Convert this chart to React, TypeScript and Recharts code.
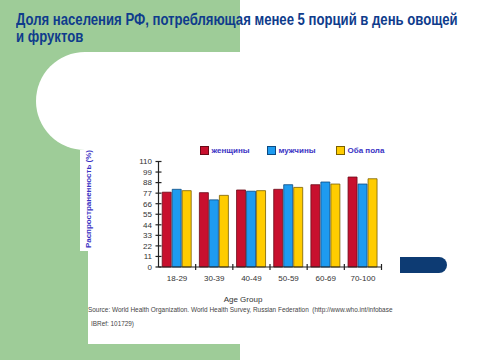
import React from "react"
import { BarChart, Bar, XAxis, YAxis } from "recharts"

const ageGroups = ["18-29", "30-39", "40-49", "50-59", "60-69", "70-100"]
const women = [78, 77.5, 80.3, 81, 85.8, 93.8]
const men = [81, 70, 79, 85.8, 88.6, 86.5]
const both = [79.6, 74.7, 79.6, 83, 86.5, 92]
const yTicks = [0, 11, 22, 33, 44, 55, 66, 77, 88, 99, 110]

const series = [
  { key: "women", name: "женщины", fill: "#c8102e", stroke: "#6b0a18" },
  { key: "men", name: "мужчины", fill: "#1e9bf0", stroke: "#0b4a82" },
  { key: "both", name: "Оба пола", fill: "#ffcc00", stroke: "#7a6000" },
]

const data = ageGroups.map((g, i) => ({ group: g, women: women[i], men: men[i], both: both[i] }))

const GREEN = "#9ecc98"
const PLOT_W = 223
const BAND = PLOT_W / ageGroups.length

const XTick = (props: any) => {
  const { x, y, payload } = props
  const axisY = y - 6
  return (
    <g>
      <line x1={x + BAND / 2} x2={x + BAND / 2} y1={axisY - 3} y2={axisY + 3} stroke="#222" strokeWidth={1.2} />
      <text x={x} y={axisY + 11} dy="0.35em" textAnchor="middle" fontSize={8} fill="#333" fontFamily="Liberation Sans, Arial, sans-serif">
        {payload.value}
      </text>
    </g>
  )
}

const YTick = (props: any) => {
  const { x, y, payload } = props
  const axisX = x + 6
  return (
    <g>
      <line x1={axisX - 3} x2={axisX + 3} y1={y} y2={y} stroke="#222" strokeWidth={1.2} />
      <text x={axisX - 6.5} y={y} dy="0.35em" textAnchor="end" fontSize={8} fill="#333" fontFamily="Liberation Sans, Arial, sans-serif">
        {payload.value}
      </text>
    </g>
  )
}

const abs = (l: number, t: number, w: number, h: number, extra: React.CSSProperties = {}): React.CSSProperties => ({
  position: "absolute",
  left: l,
  top: t,
  width: w,
  height: h,
  ...extra,
})

export default function App() {
  return (
    <div style={{ position: "fixed", left: 0, top: 0, width: 480, height: 360, background: "#fff", overflow: "hidden", fontFamily: "Liberation Sans, Arial, sans-serif" }}>
      {/* slide background */}
      <div style={abs(0, 0, 240, 360, { background: GREEN })} />
      <div style={abs(36, 52, 444, 98, { background: "#fff", borderTopLeftRadius: 49, borderBottomLeftRadius: 49 })} />
      <div style={abs(80, 150, 160, 101, { background: "#fff" })} />
      <div style={abs(88, 251, 152, 93, { background: "#fff" })} />
      <div style={abs(400, 257, 47, 16, { background: "#0d3b73", borderTopRightRadius: 8, borderBottomRightRadius: 8 })} />

      {/* title */}
      <div
        style={abs(16, 11, 560, 40, {
          fontWeight: "bold",
          fontSize: 16,
          lineHeight: "17px",
          color: "#0f3c8c",
          whiteSpace: "nowrap",
          transform: "scaleX(0.82)",
          transformOrigin: "0 0",
        })}
      >
        Доля населения РФ, потребляющая менее 5 порций в день овощей
        <br />и фруктов
      </div>

      <div style={abs(0, 0, 480, 360)}>
        <BarChart
          width={480}
          height={360}
          data={data}
          margin={{ top: 161.5, right: 98.5, left: 100, bottom: 63 }}
          barCategoryGap="10%"
          barGap={1}
        >
          <XAxis
            dataKey="group"
            height={30}
            tickLine={false}
            tickSize={4}
            tickMargin={2}
            tick={<XTick />}
            axisLine={{ stroke: "#222", strokeWidth: 1.2 }}
            interval={0}
          />
          <YAxis
            width={58.5}
            domain={[0, 110]}
            ticks={yTicks}
            tickLine={false}
            tickSize={4}
            tickMargin={2}
            tick={<YTick />}
            axisLine={{ stroke: "#222", strokeWidth: 1.2 }}
            interval={0}
          />
          {series.map((s) => (
            <Bar key={s.key} dataKey={s.key} name={s.name} fill={s.fill} stroke={s.stroke} strokeWidth={0.8} isAnimationActive={false} />
          ))}
        </BarChart>
      </div>

      {/* legend */}
      {series.map((s, i) => (
        <div key={s.key} style={abs([200, 267, 336][i], 145, 70, 11, { display: "flex", alignItems: "center" })}>
          <div style={{ width: 7, height: 7, background: s.fill, border: `1px solid ${s.stroke}` }} />
          <span style={{ marginLeft: 2.5, fontSize: 8, fontWeight: "bold", color: "#3a32c4", whiteSpace: "nowrap" }}>{s.name}</span>
        </div>
      ))}

      {/* y label */}
      <div
        style={abs(39, 194, 100, 10, {
          transform: "rotate(-90deg)",
          textAlign: "center",
          fontSize: 8,
          fontWeight: "bold",
          color: "#3a32c4",
          lineHeight: "10px",
          whiteSpace: "nowrap",
        })}
      >
        Распространенность (%)
      </div>

      <div style={abs(193, 295, 100, 10, { textAlign: "center", fontSize: 8, color: "#333", lineHeight: "10px" })}>Age Group</div>
      <div style={abs(88, 306, 390, 8, { fontSize: 6.45, color: "#444", lineHeight: "8px", whiteSpace: "nowrap" })}>
        Source: World Health Organization. World Health Survey, Russian Federation&nbsp; (http://www.who.int/infobase
      </div>
      <div style={abs(91, 320, 100, 8, { fontSize: 6.4, color: "#444", lineHeight: "8px", whiteSpace: "nowrap" })}>IBRef: 101729)</div>
    </div>
  )
}
